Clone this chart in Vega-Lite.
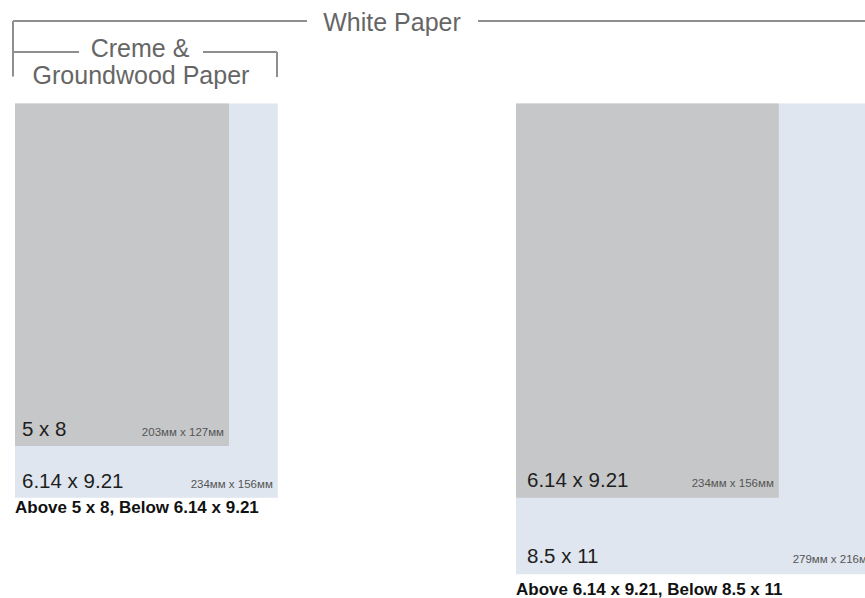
{
  "$schema": "https://vega.github.io/schema/vega-lite/v6.json",
  "background": "white",
  "padding": 0,
  "bounds": "flush",
  "spacing": 0,
  "config": {"view": {"stroke": null}, "font": "Liberation Sans"},
  "datasets": {
    "sizes": [
      {"panel": "left", "role": "outer", "size": "6.14 x 9.21", "w": 6.14, "h": 9.21, "mm": "234ᴍᴍ x 156ᴍᴍ", "caption": "Above 5 x 8, Below 6.14 x 9.21"},
      {"panel": "left", "role": "inner", "size": "5 x 8", "w": 5, "h": 8, "mm": "203ᴍᴍ x 127ᴍᴍ", "caption": ""},
      {"panel": "right", "role": "outer", "size": "8.5 x 11", "w": 8.5, "h": 11, "mm": "279ᴍᴍ x 216ᴍᴍ", "caption": "Above 6.14 x 9.21, Below 8.5 x 11"},
      {"panel": "right", "role": "inner", "size": "6.14 x 9.21", "w": 6.14, "h": 9.21, "mm": "234ᴍᴍ x 156ᴍᴍ", "caption": ""}
    ]
  },
  "resolve": {"scale": {"x": "independent", "y": "independent"}},
  "hconcat": [
    {
      "width": 516,
      "height": 598,
      "layer": [
        {
          "data": {"name": "sizes"},
          "transform": [{"filter": "datum.panel === 'left'"}],
          "mark": {"type": "rect", "strokeWidth": 0},
          "encoding": {
            "x": {"field": "w", "type": "quantitative", "scale": {"domain": [-0.35047, 11.70561], "nice": false, "zero": false}, "axis": null},
            "x2": {"datum": 0},
            "y": {"field": "h", "type": "quantitative", "scale": {"domain": [-2.41822, 11.55374], "nice": false, "zero": false, "reverse": true}, "axis": null},
            "y2": {"datum": 0},
            "color": {"field": "role", "type": "nominal", "scale": {"domain": ["outer", "inner"], "range": ["#dfe6ef", "#c6c7c8"]}, "legend": null}
          }
        },
        {
          "data": {"name": "sizes"},
          "transform": [{"filter": "datum.panel === 'left'"}],
          "mark": {"type": "text", "align": "left", "baseline": "alphabetic", "dx": 7, "dy": -10, "fontSize": 20.5, "color": "#1e1e1e"},
          "encoding": {
            "x": {"datum": 0, "type": "quantitative"},
            "y": {"field": "h", "type": "quantitative"},
            "text": {"field": "size", "type": "nominal"}
          }
        },
        {
          "data": {"name": "sizes"},
          "transform": [{"filter": "datum.panel === 'left'"}],
          "mark": {"type": "text", "align": "right", "baseline": "alphabetic", "dx": -5, "dy": -10, "fontSize": 11.5, "color": "#555555"},
          "encoding": {
            "x": {"field": "w", "type": "quantitative"},
            "y": {"field": "h", "type": "quantitative"},
            "text": {"field": "mm", "type": "nominal"}
          }
        },
        {
          "data": {"name": "sizes"},
          "transform": [{"filter": "datum.panel === 'left' && datum.role === 'outer'"}],
          "mark": {"type": "text", "align": "left", "baseline": "alphabetic", "dy": 15, "fontSize": 17, "fontWeight": "bold", "color": "#111111"},
          "encoding": {
            "x": {"datum": 0, "type": "quantitative"},
            "y": {"field": "h", "type": "quantitative"},
            "text": {"field": "caption", "type": "nominal"}
          }
        },
        {
          "data": {"values": [{}]},
          "mark": {"type": "rule", "color": "#8f8f8f", "strokeWidth": 2},
          "encoding": {"x": {"datum": -0.0467, "type": "quantitative"}, "x2": {"datum": 6.8224}, "y": {"datum": -1.9276, "type": "quantitative"}}
        },
        {
          "data": {"values": [{}]},
          "mark": {"type": "rule", "color": "#8f8f8f", "strokeWidth": 2},
          "encoding": {"x": {"datum": 10.8178, "type": "quantitative"}, "x2": {"datum": 11.70561}, "y": {"datum": -1.9276, "type": "quantitative"}}
        },
        {
          "data": {"values": [{}]},
          "mark": {"type": "rule", "color": "#8f8f8f", "strokeWidth": 2},
          "encoding": {"x": {"datum": -0.0467, "type": "quantitative"}, "y": {"datum": -1.9276, "type": "quantitative"}, "y2": {"datum": -0.6308}}
        },
        {
          "data": {"values": [{}]},
          "mark": {"type": "rule", "color": "#8f8f8f", "strokeWidth": 2},
          "encoding": {"x": {"datum": -0.0467, "type": "quantitative"}, "x2": {"datum": 1.4953}, "y": {"datum": -1.2033, "type": "quantitative"}}
        },
        {
          "data": {"values": [{}]},
          "mark": {"type": "rule", "color": "#8f8f8f", "strokeWidth": 2},
          "encoding": {"x": {"datum": 4.3925, "type": "quantitative"}, "x2": {"datum": 6.1215}, "y": {"datum": -1.2033, "type": "quantitative"}}
        },
        {
          "data": {"values": [{}]},
          "mark": {"type": "rule", "color": "#8f8f8f", "strokeWidth": 2},
          "encoding": {"x": {"datum": 6.1215, "type": "quantitative"}, "y": {"datum": -1.2033, "type": "quantitative"}, "y2": {"datum": -0.6192}}
        },
        {
          "data": {"values": [{}]},
          "mark": {"type": "text", "text": "White Paper", "align": "center", "baseline": "alphabetic", "fontSize": 25, "color": "#666666"},
          "encoding": {"x": {"datum": 8.8084, "type": "quantitative"}, "y": {"datum": -1.6939, "type": "quantitative"}}
        },
        {
          "data": {"values": [{}]},
          "mark": {"type": "text", "text": "Creme &", "align": "center", "baseline": "alphabetic", "fontSize": 25, "color": "#666666"},
          "encoding": {"x": {"datum": 2.9206, "type": "quantitative"}, "y": {"datum": -1.0864, "type": "quantitative"}}
        },
        {
          "data": {"values": [{}]},
          "mark": {"type": "text", "text": "Groundwood Paper", "align": "center", "baseline": "alphabetic", "fontSize": 25, "color": "#666666"},
          "encoding": {"x": {"datum": 2.9439, "type": "quantitative"}, "y": {"datum": -0.4556, "type": "quantitative"}}
        }
      ]
    },
    {
      "width": 349,
      "height": 598,
      "layer": [
        {
          "data": {"name": "sizes"},
          "transform": [{"filter": "datum.panel === 'right'"}],
          "mark": {"type": "rect", "strokeWidth": 0, "clip": true},
          "encoding": {
            "x": {"field": "w", "type": "quantitative", "scale": {"domain": [0, 8.15421], "nice": false, "zero": false}, "axis": null},
            "x2": {"datum": 0},
            "y": {"field": "h", "type": "quantitative", "scale": {"domain": [-2.41822, 11.55374], "nice": false, "zero": false, "reverse": true}, "axis": null},
            "y2": {"datum": 0},
            "color": {"field": "role", "type": "nominal", "scale": {"domain": ["outer", "inner"], "range": ["#dfe6ef", "#c6c7c8"]}, "legend": null}
          }
        },
        {
          "data": {"name": "sizes"},
          "transform": [{"filter": "datum.panel === 'right'"}],
          "mark": {"type": "text", "align": "left", "baseline": "alphabetic", "dx": 11, "dy": -11, "fontSize": 20.5, "color": "#1e1e1e", "clip": true},
          "encoding": {
            "x": {"datum": 0, "type": "quantitative"},
            "y": {"field": "h", "type": "quantitative"},
            "text": {"field": "size", "type": "nominal"}
          }
        },
        {
          "data": {"name": "sizes"},
          "transform": [{"filter": "datum.panel === 'right'"}],
          "mark": {"type": "text", "align": "right", "baseline": "alphabetic", "dx": -5, "dy": -11, "fontSize": 11.5, "color": "#555555", "clip": true},
          "encoding": {
            "x": {"field": "w", "type": "quantitative"},
            "y": {"field": "h", "type": "quantitative"},
            "text": {"field": "mm", "type": "nominal"}
          }
        },
        {
          "data": {"name": "sizes"},
          "transform": [{"filter": "datum.panel === 'right' && datum.role === 'outer'"}],
          "mark": {"type": "text", "align": "left", "baseline": "alphabetic", "dy": 21, "fontSize": 17, "fontWeight": "bold", "color": "#111111", "clip": true},
          "encoding": {
            "x": {"datum": 0, "type": "quantitative"},
            "y": {"field": "h", "type": "quantitative"},
            "text": {"field": "caption", "type": "nominal"}
          }
        },
        {
          "data": {"values": [{}]},
          "mark": {"type": "rule", "color": "#8f8f8f", "strokeWidth": 2, "clip": true},
          "encoding": {"x": {"datum": 0, "type": "quantitative"}, "x2": {"datum": 8.15421}, "y": {"datum": -1.9276, "type": "quantitative"}}
        }
      ]
    }
  ]
}
